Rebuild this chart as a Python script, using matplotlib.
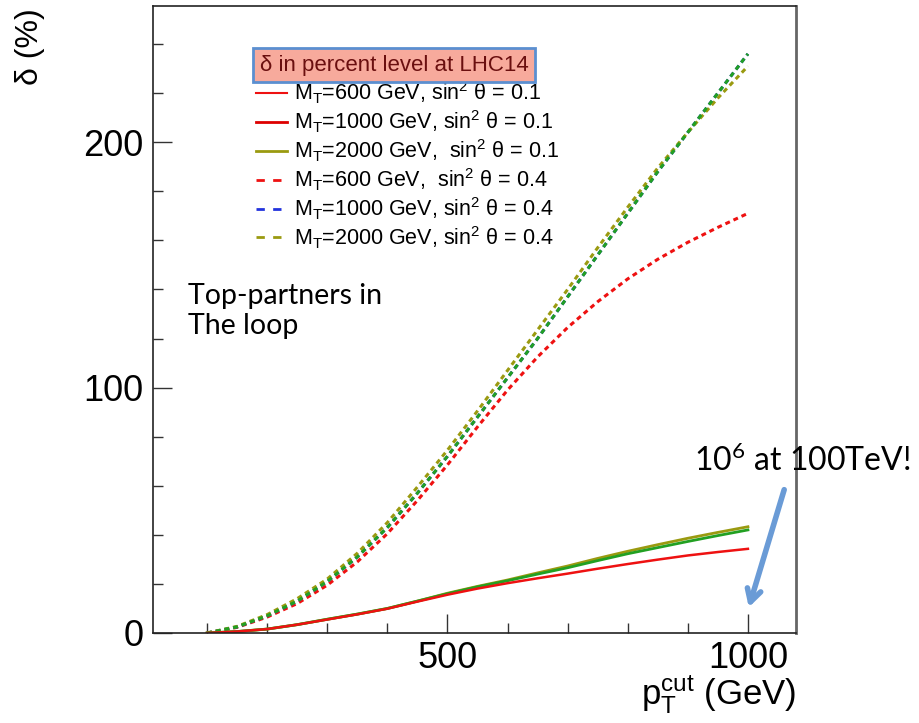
import numpy as np
import matplotlib
matplotlib.use("Agg")
import matplotlib.pyplot as plt
from matplotlib.ticker import MultipleLocator
from matplotlib.lines import Line2D

plt.rcParams['font.family'] = ['Liberation Sans', 'DejaVu Sans']
plt.rcParams['mathtext.fontset'] = 'custom'
plt.rcParams['mathtext.rm'] = 'Liberation Sans'
plt.rcParams['mathtext.it'] = 'Liberation Sans'

# pT cut (GeV)
pt = [100, 150, 200, 250, 300, 350, 400, 450, 500, 550,
      600, 650, 700, 750, 800, 850, 900, 950, 1000]

# sin^2 theta = 0.1
s01_red = [0, 0.6, 1.6, 3.4, 5.5, 7.6, 9.9, 12.8, 15.6, 18.1,
           20.3, 22.3, 24.2, 26.2, 28.1, 29.9, 31.6, 33.0, 34.3]
s01_green = [0, 0.6, 1.6, 3.4, 5.6, 7.7, 10.0, 13.0, 16.0, 18.8,
             21.3, 24.0, 26.6, 29.5, 32.3, 34.8, 37.3, 39.7, 42.0]
s01_olive = [0, 0.6, 1.6, 3.4, 5.6, 7.7, 10.0, 13.0, 16.2, 19.0,
             21.6, 24.5, 27.3, 30.4, 33.3, 36.0, 38.6, 41.0, 43.3]

# sin^2 theta = 0.4
s04_red = [0, 2.3, 6.5, 12.0, 19.5, 29.0, 40.5, 54.0, 68.5, 84.0,
           99.0, 112.5, 124.5, 135.0, 144.3, 152.3, 159.2, 165.3, 171.0]
s04_green = [0, 2.5, 7.0, 13.0, 21.0, 31.0, 43.0, 57.0, 72.0, 88.0,
             104.0, 120.0, 137.0, 154.0, 171.0, 188.0, 204.0, 220.0, 236.0]
s04_olive = [0, 2.7, 7.5, 14.0, 22.0, 32.5, 45.0, 59.5, 74.5, 90.5,
             107.0, 123.5, 140.0, 157.0, 173.5, 189.5, 204.0, 218.0, 231.0]

labels = [r'M$_\mathregular{T}$=600 GeV, sin$^\mathregular{2}$ θ = 0.1',
          r'M$_\mathregular{T}$=1000 GeV, sin$^\mathregular{2}$ θ = 0.1',
          r'M$_\mathregular{T}$=2000 GeV,  sin$^\mathregular{2}$ θ = 0.1',
          r'M$_\mathregular{T}$=600 GeV,  sin$^\mathregular{2}$ θ = 0.4',
          r'M$_\mathregular{T}$=1000 GeV, sin$^\mathregular{2}$ θ = 0.4',
          r'M$_\mathregular{T}$=2000 GeV, sin$^\mathregular{2}$ θ = 0.4']

red = '#ee1111'
green = '#22a022'
olive = '#9a9a10'
blue = '#2233dd'
dash = (0, (1.6, 1.3))

fig = plt.figure(figsize=(9.19, 7.23), dpi=100)
ax = fig.add_axes([153/919, 90/723, 643/919, 627/723])

ax.plot(pt, s04_red, color=red, lw=2.2, ls=dash)
ax.plot(pt, s04_green, color=blue, lw=2.2, ls=dash)
ax.plot(pt, s04_olive, color=olive, lw=2.2, ls=dash)
ax.plot(pt, s04_green, color=green, lw=2.2, ls=dash)
ax.plot(pt, s01_olive, color=olive, lw=2)
ax.plot(pt, s01_green, color=green, lw=2)
ax.plot(pt, s01_red, color=red, lw=1.8)

ax.set_xlim(10, 1080)
ax.set_ylim(0, 255.5)
ax.xaxis.set_major_locator(MultipleLocator(500))
ax.xaxis.set_minor_locator(MultipleLocator(100))
ax.yaxis.set_major_locator(MultipleLocator(100))
ax.yaxis.set_minor_locator(MultipleLocator(20))
ax.tick_params(which='both', direction='in', top=False, right=False,
               labelsize=26, width=1, color='#333333')
ax.tick_params(which='major', length=14)
ax.tick_params(which='minor', length=7)
ax.tick_params(axis='y', pad=7)
ax.tick_params(axis='x', pad=6)
for s in ['left', 'bottom', 'top']:
    ax.spines[s].set_color('#222222')
    ax.spines[s].set_linewidth(1.2)
ax.spines['right'].set_color('#666666')
ax.spines['right'].set_linewidth(2)

# legend
handles = [Line2D([], [], color=red, lw=1.5),
           Line2D([], [], color='#dd0000', lw=2),
           Line2D([], [], color=olive, lw=2),
           Line2D([], [], color=red, lw=2, ls=(0, (3, 3))),
           Line2D([], [], color=blue, lw=2, ls=(0, (3, 3))),
           Line2D([], [], color=olive, lw=2, ls=(0, (3, 3)))]
ax.legend(handles, labels, loc='upper left', bbox_to_anchor=(0.16, 0.8825),
          frameon=False, fontsize=15.5, handlelength=1.45, handletextpad=0.3,
          labelspacing=0.11, borderaxespad=0, borderpad=0)

fig.text(394/919, 1 - 65/723, 'δ in percent level at LHC14', fontsize=16,
         color='#6a0f0f', ha='center', va='center',
         bbox=dict(boxstyle='square,pad=0.28', facecolor='#f7aa9c',
                   edgecolor='#5b8fd0', linewidth=2))

fig.text(188/919, 1 - 311/723, 'Top-partners in\nThe loop', fontsize=20.5,
         family='Lato', ha='left', va='center', linespacing=1.2)

fig.text(694/919, 1 - 461/723, r'10$^\mathregular{6}$ at 100TeV!', fontsize=23,
         family='Lato', ha='left', va='center')
ax.annotate('', xy=(748, 723 - 610), xytext=(785, 723 - 487),
            xycoords='figure pixels', textcoords='figure pixels',
            arrowprops=dict(arrowstyle='->,head_length=0.9,head_width=0.5',
                            color='#6a9bd6', lw=4))

fig.text(30/919, 1 - 8/723, 'δ (%)', fontsize=23, rotation=90,
         ha='center', va='top')
fig.text(796/919, 1 - 695/723, r'p$_\mathregular{T}^\mathregular{cut}$ (GeV)',
         fontsize=25, ha='right', va='center')

fig.savefig('out.png', dpi=100)
